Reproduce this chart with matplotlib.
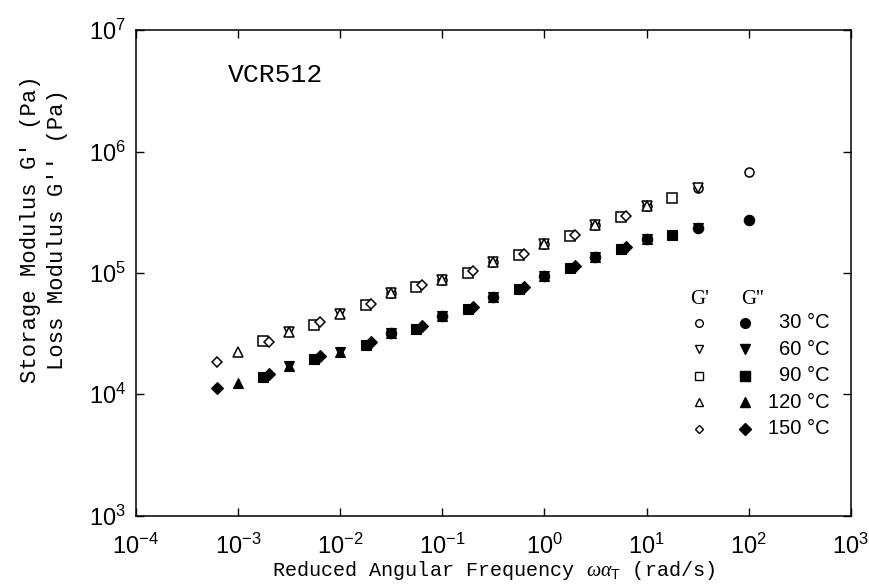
import matplotlib
matplotlib.use("Agg")
import matplotlib.pyplot as plt
from matplotlib.ticker import LogLocator, LogFormatterMathtext, NullLocator

plt.rcParams["mathtext.fontset"] = "custom"
plt.rcParams["mathtext.rm"] = "Liberation Sans"
plt.rcParams["mathtext.it"] = "Liberation Serif:italic"
plt.rcParams["mathtext.bf"] = "Liberation Sans:bold"

# ── data (reduced frequency, G', G'') ──
temps = ["30 °C", "60 °C", "90 °C", "120 °C", "150 °C"]
markers = ["o", "v", "s", "^", "D"]

w_30 = [0.0316, 0.1, 0.316, 1.0, 3.16, 10.0, 31.6, 100.0]
g1_30 = [6.84e4, 8.75e4, 1.23e5, 1.73e5, 2.48e5, 3.56e5, 5.00e5, 6.78e5]
g2_30 = [3.20e4, 4.42e4, 6.32e4, 9.44e4, 1.35e5, 1.90e5, 2.34e5, 2.72e5]

w_60 = [0.00316, 0.01, 0.0316, 0.1, 0.316, 1.0, 3.16, 10.0, 31.6]
g1_60 = [3.26e4, 4.58e4, 6.84e4, 8.75e4, 1.23e5, 1.73e5, 2.48e5, 3.56e5, 5.00e5]
g2_60 = [1.71e4, 2.23e4, 3.20e4, 4.42e4, 6.32e4, 9.44e4, 1.35e5, 1.90e5, 2.34e5]

w_90 = [0.00178, 0.0056, 0.0178, 0.056, 0.178, 0.56, 1.78, 5.6, 17.8]
g1_90 = [2.75e4, 3.72e4, 5.45e4, 7.66e4, 9.98e4, 1.41e5, 2.02e5, 2.89e5, 4.14e5]
g2_90 = [1.39e4, 1.95e4, 2.55e4, 3.45e4, 5.04e4, 7.36e4, 1.10e5, 1.57e5, 2.05e5]

w_120 = [0.001, 0.00316, 0.01, 0.0316, 0.1, 0.316, 1.0, 3.16, 10.0]
g1_120 = [2.23e4, 3.26e4, 4.58e4, 6.84e4, 8.75e4, 1.23e5, 1.73e5, 2.48e5, 3.56e5]
g2_120 = [1.24e4, 1.71e4, 2.23e4, 3.20e4, 4.42e4, 6.32e4, 9.44e4, 1.35e5, 1.90e5]

w_150 = [0.00063, 0.0020, 0.0063, 0.020, 0.063, 0.20, 0.63, 2.0, 6.3]
g1_150 = [1.85e4, 2.70e4, 3.94e4, 5.55e4, 7.96e4, 1.04e5, 1.43e5, 2.06e5, 2.94e5]
g2_150 = [1.13e4, 1.47e4, 2.07e4, 2.70e4, 3.66e4, 5.24e4, 7.66e4, 1.14e5, 1.63e5]

series = [
    (w_30, g1_30, g2_30),
    (w_60, g1_60, g2_60),
    (w_90, g1_90, g2_90),
    (w_120, g1_120, g2_120),
    (w_150, g1_150, g2_150),
]

MONO = "Liberation Mono"
SANS = "Liberation Sans"
SERIF = "Liberation Serif"

fig = plt.figure(figsize=(8.7, 5.85), dpi=100)
ax = fig.add_axes([0.156, 0.1185, 0.822, 0.830])

for (w, g1, g2), m in zip(series, markers):
    ms = 5.5 if m == "D" else 6.5
    ax.plot(w, g1, linestyle="none", marker=m, markersize=ms,
            markerfacecolor="white", markeredgecolor="black", markeredgewidth=1.1)
    ax.plot(w, g2, linestyle="none", marker=m, markersize=ms + 1.0,
            markerfacecolor="black", markeredgecolor="black", markeredgewidth=0.8)

ax.set_xscale("log")
ax.set_yscale("log")
ax.set_xlim(1e-4, 1e3)
ax.set_ylim(1e3, 1e7)

for axis in (ax.xaxis, ax.yaxis):
    axis.set_major_locator(LogLocator(base=10, numticks=20))
    axis.set_major_formatter(LogFormatterMathtext())
    axis.set_minor_locator(NullLocator())

ax.tick_params(which="major", direction="in", top=True, right=True,
               length=6, width=1.0, labelsize=17, labelfontfamily=SANS)
ax.tick_params(axis="x", pad=13)
ax.tick_params(axis="y", pad=7)

for spine in ax.spines.values():
    spine.set_linewidth(1.1)

ax.set_xlabel(r"Reduced Angular Frequency $\omega\alpha_{\mathrm{T}}$ (rad/s)",
              family=MONO, fontsize=14.5, labelpad=0)
ax.set_ylabel("Storage Modulus G' (Pa)\nLoss Modulus G'' (Pa)",
              family=MONO, fontsize=16, linespacing=1.35, ha="center")
ax.yaxis.set_label_coords(-0.095, 0.59)

ax.text(0.129, 0.907, "VCR512", transform=ax.transAxes, family=MONO,
        fontsize=19, ha="left", va="center")

# ── hand-laid legend: open = G', filled = G'' ──
x_open, x_fill, x_lab = 0.788, 0.852, 0.970
y_head, y_row0, dy = 0.445, 0.397, 0.0545
ax.text(x_open, y_head, "G'", transform=ax.transAxes, family=SERIF,
        fontsize=15, ha="center", va="center")
ax.text(x_fill + 0.01, y_head, "G''", transform=ax.transAxes, family=SERIF,
        fontsize=15, ha="center", va="center")
for i, (m, t) in enumerate(zip(markers, temps)):
    yy = y_row0 - i * dy
    ms = 4.5 if m == "D" else 5.5
    ax.plot([x_open], [yy], transform=ax.transAxes, clip_on=False, marker=m,
            markersize=ms, markerfacecolor="white", markeredgecolor="black",
            markeredgewidth=1.0, linestyle="none")
    ax.plot([x_fill], [yy], transform=ax.transAxes, clip_on=False, marker=m,
            markersize=ms + 1.5, markerfacecolor="black", markeredgecolor="black",
            linestyle="none")
    ax.text(x_lab, yy, t, transform=ax.transAxes, family=SANS, fontsize=14.5,
            ha="right", va="center")

fig.savefig("out.png", dpi=100, facecolor="white")
